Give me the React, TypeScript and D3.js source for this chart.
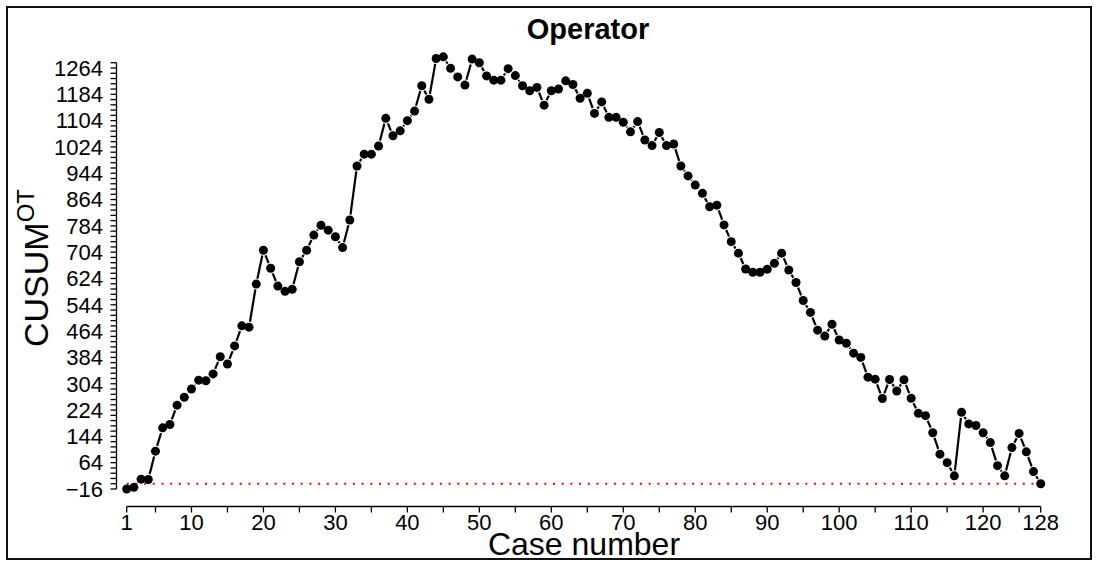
import React from "react";
import * as d3 from "d3";

// CUSUM of observed minus expected operating time, per consecutive case
const caseNumbers: number[] = d3.range(1, 129);
const cusumValues: number[] = [
  -16, -11, 14, 13, 99, 170, 180, 239, 263, 288,
  315, 313, 334, 386, 364, 419, 480, 476, 607, 710,
  655, 601, 585, 591, 675, 710, 756, 786, 771, 751,
  718, 802, 966, 1002, 1002, 1027, 1111, 1058, 1073, 1104,
  1133, 1210, 1169, 1293, 1298, 1263, 1237, 1212, 1291, 1280,
  1240, 1227, 1227, 1262, 1241, 1210, 1195, 1205, 1151, 1195,
  1200, 1225, 1214, 1172, 1187, 1126, 1161, 1114, 1114, 1099,
  1070, 1101, 1045, 1028, 1068, 1028, 1033, 966, 936, 908,
  883, 842, 847, 787, 736, 701, 653, 643, 643, 652,
  670, 701, 650, 612, 557, 521, 467, 449, 485, 437,
  427, 397, 384, 324, 318, 259, 317, 282, 316, 260,
  214, 207, 155, 90, 64, 24, 217, 182, 177, 155,
  125, 55, 24, 110, 153, 97, 37, 0,
];

// Axis ticks
const xLabelTicks: number[] = [1, 10, 20, 30, 40, 50, 60, 70, 80, 90, 100, 110, 120, 128];
const xMinorTicks: number[] = [5, 15, 25, 35, 45, 55, 65, 75, 85, 95, 105, 115, 125];
const yLabelTicks: number[] = d3.range(-16, 1265, 80);
const yMinorTicks: number[] = d3.range(-16, 1281, 16);
const referenceLevel = 0;

const W = 1099;
const H = 563;
const FONT = "'Liberation Sans', Arial, Helvetica, sans-serif";

export default function App() {
  const x = d3.scaleLinear().domain([1, 128]).range([126.7, 1040.7]);
  const y = d3.scaleLinear().domain([-16, 1264]).range([489, 68]);

  const pts = caseNumbers.map((c, i) => ({ px: x(c), py: y(cusumValues[i]) }));

  // "b"-style connectors: segments trimmed back from each point
  const gap = 5.5;
  const segs: { x1: number; y1: number; x2: number; y2: number }[] = [];
  for (let i = 0; i < pts.length - 1; i++) {
    const a = pts[i];
    const b = pts[i + 1];
    const dx = b.px - a.px;
    const dy = b.py - a.py;
    const len = Math.hypot(dx, dy);
    if (len <= 2 * gap) continue;
    const ux = dx / len;
    const uy = dy / len;
    segs.push({
      x1: a.px + ux * gap,
      y1: a.py + uy * gap,
      x2: b.px - ux * gap,
      y2: b.py - uy * gap,
    });
  }

  const axisY = 506.5;
  const axisX = 116.5;
  const tickLen = 6;

  return (
    <svg
      width={W}
      height={H}
      style={{ position: "absolute", left: 0, top: 0, background: "#fff" }}
      fontFamily={FONT}
    >
      <rect x={0} y={0} width={W} height={H} fill="#fff" />
      <rect x={7} y={7} width={1084} height={552} fill="none" stroke="#111" strokeWidth={2} />

      {/* title */}
      <text x={588} y={39} textAnchor="middle" fontSize={29} fontWeight="bold" fill="#000">
        Operator
      </text>

      {/* reference line */}
      <line
        x1={x(1)}
        x2={x(128)}
        y1={y(referenceLevel)}
        y2={y(referenceLevel)}
        stroke="#ff0000"
        strokeWidth={2}
        strokeDasharray="2 6.7"
      />

      {/* connectors */}
      {segs.map((s, i) => (
        <line key={"s" + i} x1={s.x1} y1={s.y1} x2={s.x2} y2={s.y2} stroke="#000" strokeWidth={2.2} />
      ))}

      {/* points */}
      {pts.map((p, i) => (
        <circle key={"p" + i} cx={p.px} cy={p.py} r={4.5} fill="#000" />
      ))}

      {/* x axis */}
      <line x1={x(1)} x2={x(128)} y1={axisY} y2={axisY} stroke="#000" strokeWidth={1.3} />
      {[...xLabelTicks, ...xMinorTicks].map((t) => (
        <line key={"xt" + t} x1={x(t)} x2={x(t)} y1={axisY} y2={axisY + tickLen} stroke="#000" strokeWidth={1.3} />
      ))}
      {xLabelTicks.map((t) => (
        <text key={"xl" + t} x={x(t)} y={530} textAnchor="middle" fontSize={22} fill="#000">
          {t}
        </text>
      ))}

      {/* y axis */}
      <line x1={axisX} x2={axisX} y1={y(-16)} y2={y(1280)} stroke="#000" strokeWidth={1.3} />
      {yMinorTicks.map((t) => (
        <line key={"yt" + t} x1={axisX - tickLen} x2={axisX} y1={y(t)} y2={y(t)} stroke="#000" strokeWidth={1.3} />
      ))}
      {yLabelTicks.map((t) => (
        <text key={"yl" + t} x={103} y={y(t) + 7.8} textAnchor="end" fontSize={22} fill="#000">
          {t < 0 ? "\u2212" + Math.abs(t) : t}
        </text>
      ))}

      {/* axis titles */}
      <text x={584} y={555} textAnchor="middle" fontSize={32} fill="#000">
        Case number
      </text>
      <g transform="translate(48, 268) rotate(-90)">
        <text x={0} y={0} textAnchor="middle" fontSize={34} fill="#000">
          CUSUM
          <tspan fontSize={24} dy={-14}>OT</tspan>
        </text>
      </g>
    </svg>
  );
}
